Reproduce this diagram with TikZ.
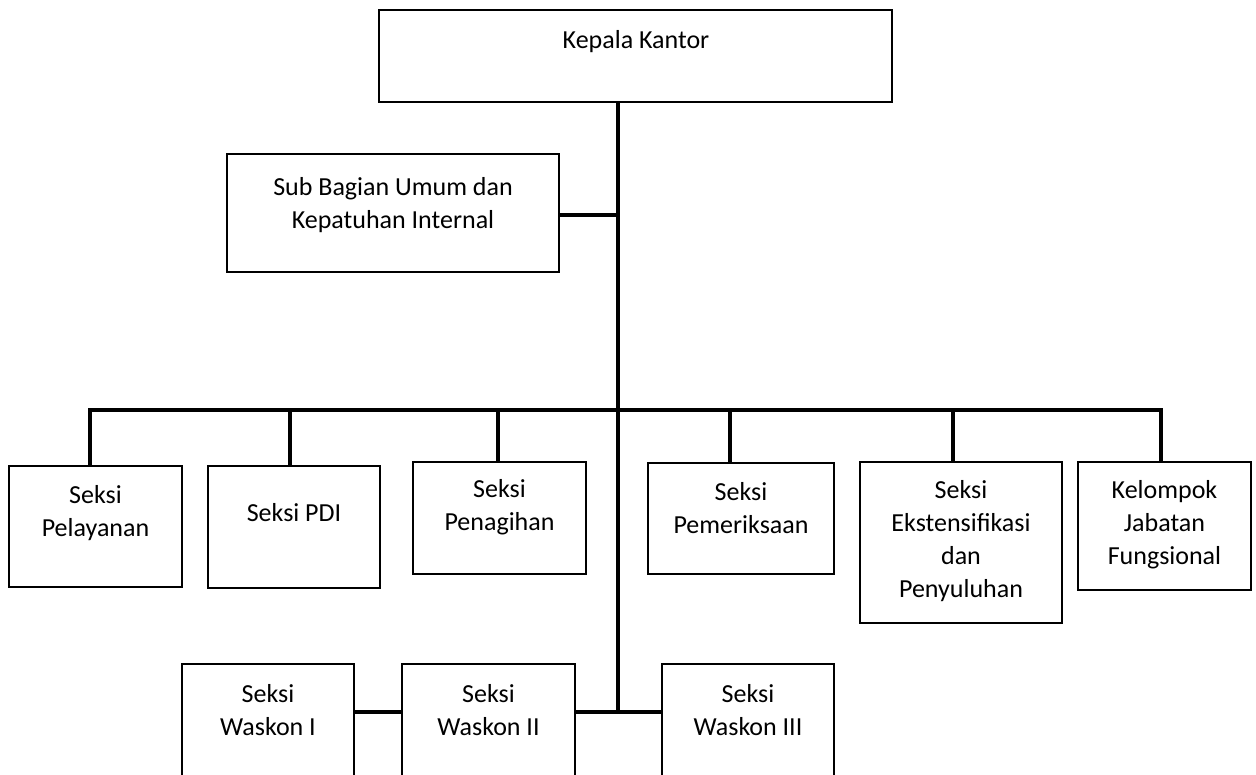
\documentclass[tikz,border=0pt]{standalone}
\usepackage{fontspec}
\setmainfont{Carlito}
\begin{document}
\begin{tikzpicture}[x=1pt,y=-1pt,
  box/.style={draw=black,line width=2.4pt,rectangle,anchor=north west,inner sep=0pt,outer sep=0pt},
  lbl/.style={align=center,inner sep=0pt,font=\fontsize{26}{33}\selectfont},
  conn/.style={line width=3.6pt,line cap=rect}]
\fill[white] (0,0) rectangle (1256,774);
\useasboundingbox (0,0) rectangle (1256,774);
\clip (0,0) rectangle (1256,774);
% boxes
\node[box,minimum width=513pt,minimum height=92pt] (kk) at (379,10) {};
\node[box,minimum width=332pt,minimum height=118pt] (sub) at (227,154) {};
\node[box,minimum width=173pt,minimum height=121pt] (pel) at (9,466) {};
\node[box,minimum width=172pt,minimum height=122pt] (pdi) at (208,466) {};
\node[box,minimum width=173pt,minimum height=112pt] (pen) at (413,462) {};
\node[box,minimum width=186pt,minimum height=111pt] (pem) at (648,463) {};
\node[box,minimum width=202pt,minimum height=161pt] (eks) at (860,462) {};
\node[box,minimum width=173pt,minimum height=128pt] (kel) at (1078,462) {};
\node[box,minimum width=172pt,minimum height=150pt] (w1) at (182,664) {};
\node[box,minimum width=173pt,minimum height=150pt] (w2) at (402,664) {};
\node[box,minimum width=172pt,minimum height=150pt] (w3) at (662,664) {};
% labels
\node[lbl] (tkk) at (636,42) {Kepala Kantor};
\node[lbl] (tsub) at (393,205) {Sub Bagian Umum dan\\Kepatuhan Internal};
\node[lbl] (tpel) at (95.5,513) {Seksi\\Pelayanan};
\node[lbl] (tpdi) at (294,513) {Seksi PDI};
\node[lbl] (tpen) at (499.5,507) {Seksi\\Penagihan};
\node[lbl] (tpem) at (741,508) {Seksi\\Pemeriksaan};
\node[lbl] (teks) at (961,541) {Seksi\\Ekstensifikasi\\dan\\Penyuluhan};
\node[lbl] (tkel) at (1164.5,525) {Kelompok\\Jabatan\\Fungsional};
\node[lbl] (tw1) at (268,710) {Seksi\\Waskon I};
\node[lbl] (tw2) at (488.5,710) {Seksi\\Waskon II};
\node[lbl] (tw3) at (748,710) {Seksi\\Waskon III};
% junction coordinates
\coordinate (jw) at (618,712);
\coordinate (js) at (618,215);
\coordinate (d1) at (90,410);
\coordinate (d2) at (290,410);
\coordinate (d3) at (498,410);
\coordinate (d4) at (730,410);
\coordinate (d5) at (953,410);
\coordinate (d6) at (1161,410);
% connectors
\draw[conn,line cap=butt] (kk.south -| jw) -- (jw);
\draw[conn,line cap=butt] (sub.east |- js) -- (js);
\draw[conn] (d1) -- (d6);
\draw[conn,line cap=butt] (d1) -- (d1 |- pel.north);
\draw[conn,line cap=butt] (d2) -- (d2 |- pdi.north);
\draw[conn,line cap=butt] (d3) -- (d3 |- pen.north);
\draw[conn,line cap=butt] (d4) -- (d4 |- pem.north);
\draw[conn,line cap=butt] (d5) -- (d5 |- eks.north);
\draw[conn,line cap=butt] (d6) -- (d6 |- kel.north);
\draw[conn,line cap=butt] (w1.east |- jw) -- (w2.west |- jw);
\draw[conn,line cap=butt] (w2.east |- jw) -- (w3.west |- jw);
\end{tikzpicture}
\end{document}
